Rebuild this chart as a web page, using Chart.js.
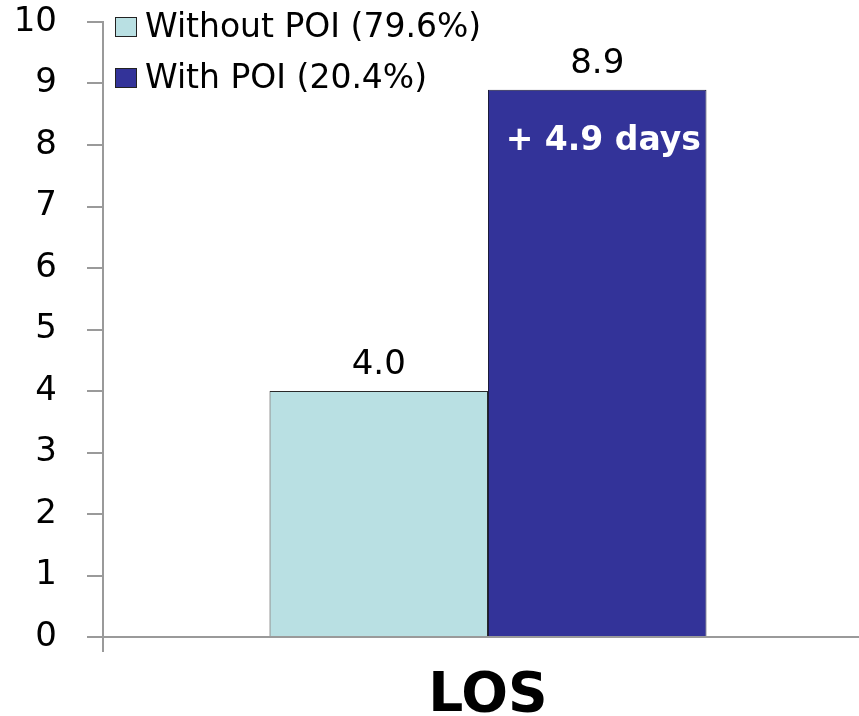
<!DOCTYPE html>
<html>
<head>
<meta charset="utf-8">
<script src="https://cdn.jsdelivr.net/npm/chart.js@4"></script>
<style>
  html, body { margin: 0; padding: 0; background: #fff; overflow: hidden; }
  /* plot runs a little past the right edge, as in the original slide */
  #wrap { width: 873px; height: 716px; }
</style>
</head>
<body>
<div id="wrap"><canvas id="losChart"></canvas></div>
<script>
// data
const categories = ['LOS'];
const seriesNames = ['Without POI (79.6%)', 'With POI (20.4%)'];
const withoutPoi = [4.0];
const withPoi = [8.9];
const diffLabel = '+ 4.9 days';

const colors = ['#B9E0E3', '#333399'];
const axisGray = '#9a9a9a';

// legend drawn inside the plot, top left
const insideLegend = {
  id: 'insideLegend',
  afterDraw(chart) {
    const ctx = chart.ctx;
    const left = chart.chartArea.left + 12;
    ctx.save();
    ctx.font = '33px "DejaVu Sans"';
    ctx.textBaseline = 'middle';
    chart.data.datasets.forEach((ds, i) => {
      const y = 27 + i * 51;
      ctx.fillStyle = ds.backgroundColor;
      ctx.fillRect(left, y - 10, 22, 20);
      ctx.strokeStyle = '#222';
      ctx.lineWidth = 1;
      ctx.strokeRect(left + 0.5, y - 9.5, 21, 19);
      ctx.fillStyle = '#000';
      ctx.fillText(ds.label, left + 30, y + 1);
    });
    ctx.restore();
  }
};

// value labels above bars and the difference note inside the tall bar
const barLabels = {
  id: 'barLabels',
  afterDatasetsDraw(chart) {
    const ctx = chart.ctx;
    ctx.save();
    ctx.textAlign = 'center';
    ctx.textBaseline = 'alphabetic';
    ctx.font = '34px "DejaVu Sans"';
    ctx.fillStyle = '#000';
    chart.data.datasets.forEach((ds, i) => {
      chart.getDatasetMeta(i).data.forEach((bar, j) => {
        ctx.fillText(ds.data[j].toFixed(1), bar.x, bar.y - 17);
      });
    });
    const tall = chart.getDatasetMeta(1).data[0];
    ctx.font = 'bold 33px "DejaVu Sans"';
    ctx.fillStyle = '#fff';
    ctx.textBaseline = 'middle';
    ctx.fillText(diffLabel, tall.x + 6, tall.y + 52);
    ctx.restore();
  }
};

const ctx = document.getElementById('losChart').getContext('2d');
const losChart = new Chart(ctx, {
  type: 'bar',
  data: {
    labels: categories,
    datasets: [
      {
        label: seriesNames[0],
        data: withoutPoi,
        backgroundColor: colors[0],
        borderColor: '#2a2a2a',
        borderWidth: 1
      },
      {
        label: seriesNames[1],
        data: withPoi,
        backgroundColor: colors[1],
        borderColor: '#1a1a3a',
        borderWidth: 1
      }
    ]
  },
  options: {
    responsive: true,
    maintainAspectRatio: false,
    animation: false,
    layout: { padding: { top: 22, right: 0, bottom: 0, left: 0 } },
    datasets: {
      bar: { categoryPercentage: 0.5675, barPercentage: 1 }
    },
    plugins: {
      legend: { display: false },
      tooltip: { enabled: false }
    },
    scales: {
      x: {
        offset: true,
        ticks: { display: false },
        grid: {
          offset: true,
          drawOnChartArea: false,
          tickLength: 15,
          lineWidth: 2,
          color: (c) => (c.index === 0 ? axisGray : 'rgba(0,0,0,0)')
        },
        border: { color: axisGray, width: 2 },
        title: {
          display: true,
          text: categories[0],
          color: '#000',
          font: { family: 'DejaVu Sans', size: 55, weight: 'bold', lineHeight: 0.6 },
          padding: { top: 0, bottom: 3 }
        },
        afterFit: (scale) => { scale.height = 79; }
      },
      y: {
        min: 0,
        max: 10,
        ticks: {
          stepSize: 1,
          padding: 30,
          color: '#000',
          font: { family: 'DejaVu Sans', size: 34 }
        },
        grid: {
          drawOnChartArea: false,
          tickLength: 16,
          lineWidth: 2,
          color: axisGray
        },
        border: { color: axisGray, width: 2 },
        afterFit: (scale) => {
          scale.width = 103;
          scale.paddingTop = 0;
          scale.paddingBottom = 0;
        }
      }
    }
  },
  plugins: [insideLegend, barLabels]
});
</script>
</body>
</html>
